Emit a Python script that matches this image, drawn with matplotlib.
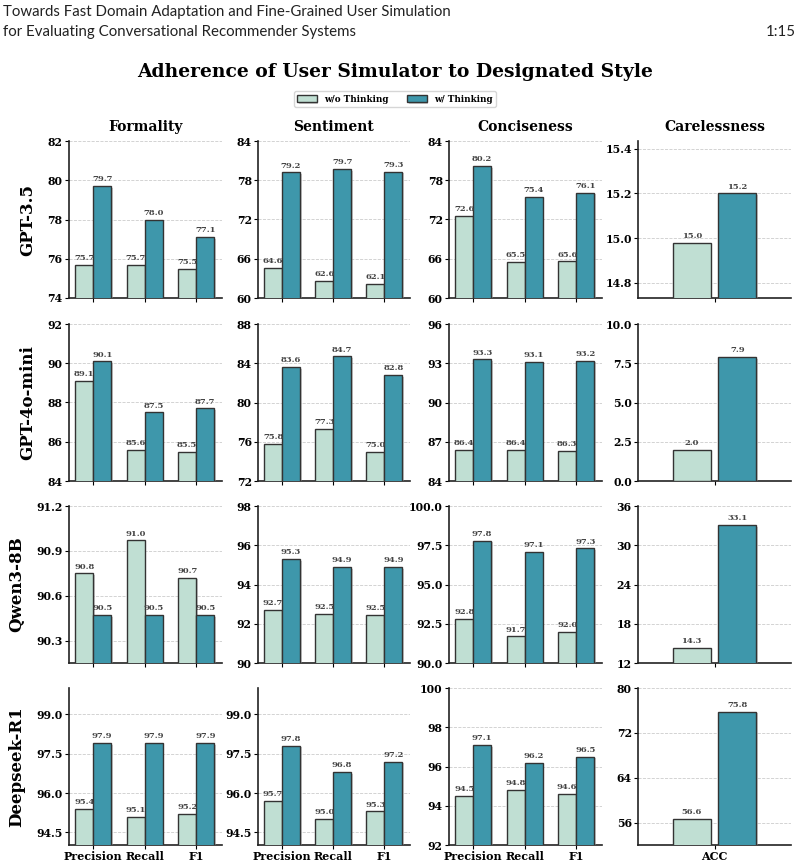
"""Adherence of user simulator to designated style: w/o vs w/ thinking, per model and style."""
import matplotlib

matplotlib.use("Agg")

import matplotlib.patheffects as pe  # noqa: E402
import matplotlib.pyplot as plt  # noqa: E402
import numpy as np  # noqa: E402

W, H = 801, 863

MODELS = ["GPT-3.5", "GPT-4o-mini", "Qwen3-8B", "Deepseek-R1"]
STYLES = ["Formality", "Sentiment", "Conciseness", "Carelessness"]
METRICS = ["Precision", "Recall", "F1"]
ACC = ["ACC"]
LEGEND_LABELS = ["w/o Thinking", "w/ Thinking"]

# rows = models, cols = styles
WO_THINKING = [
    [[75.7, 75.7, 75.5], [64.6, 62.6, 62.1], [72.6, 65.5, 65.6], [14.98]],
    [[89.1, 85.6, 85.5], [75.8, 77.3, 75.0], [86.4, 86.4, 86.3], [2.0]],
    [[90.75, 90.97, 90.72], [92.7, 92.5, 92.46], [92.8, 91.7, 92.0], [14.3]],
    [[95.4, 95.1, 95.2], [95.7, 95.0, 95.3], [94.5, 94.8, 94.6], [56.6]],
]
W_THINKING = [
    [[79.7, 78.0, 77.1], [79.2, 79.7, 79.3], [80.2, 75.4, 76.1], [15.2]],
    [[90.1, 87.5, 87.7], [83.6, 84.7, 82.8], [93.3, 93.1, 93.2], [7.9]],
    [[90.47, 90.47, 90.47], [95.3, 94.9, 94.9], [97.8, 97.1, 97.3], [33.1]],
    [[97.9, 97.9, 97.9], [97.8, 96.8, 97.2], [97.1, 96.2, 96.5], [75.8]],
]

Y_LIMITS = [
    [(74, 82), (60, 84), (60, 84), (14.733, 15.434)],
    [(84, 92), (72, 88), (84, 96), (0, 10)],
    [(90.15, 91.2), (90, 98), (90, 100), (12, 36)],
    [(94.02, 100), (94.02, 100), (92, 100), (52, 80)],
]
Y_TICKS = [
    [[74, 76, 78, 80, 82], [60, 66, 72, 78, 84], [60, 66, 72, 78, 84], [14.8, 15.0, 15.2, 15.4]],
    [[84, 86, 88, 90, 92], [72, 76, 80, 84, 88], [84, 87, 90, 93, 96], [0.0, 2.5, 5.0, 7.5, 10.0]],
    [[90.3, 90.6, 90.9, 91.2], [90, 92, 94, 96, 98], [90.0, 92.5, 95.0, 97.5, 100.0], [12, 18, 24, 30, 36]],
    [[94.5, 96.0, 97.5, 99.0], [94.5, 96.0, 97.5, 99.0], [92, 94, 96, 98, 100], [56, 64, 72, 80]],
]
Y_FMT = [
    ["{:.0f}", "{:.0f}", "{:.0f}", "{:.1f}"],
    ["{:.0f}", "{:.0f}", "{:.0f}", "{:.1f}"],
    ["{:.1f}", "{:.0f}", "{:.1f}", "{:.0f}"],
    ["{:.1f}", "{:.1f}", "{:.0f}", "{:.0f}"],
]

LIGHT = "#c0dfd3"
TEAL = "#3e97ab"
EDGE = "#333333"
SERIF = "DejaVu Serif"

# axes boxes in pixels
COL_LEFT = [69, 258, 449, 638]
COL_WIDTH = [153, 152, 153, 153]
ROW_TOP = [141, 324, 506, 688]
ROW_HEIGHT = 157

fig = plt.figure(figsize=(W / 100, H / 100), dpi=100)

fig.text(3 / W, 1 - 12 / H, "Towards Fast Domain Adaptation and Fine-Grained User Simulation",
         family="Lato", fontsize=10.85, va="center", ha="left", color="#222")
fig.text(3 / W, 1 - 32 / H, "for Evaluating Conversational Recommender Systems",
         family="Lato", fontsize=10.85, va="center", ha="left", color="#222")
fig.text(796 / W, 1 - 32 / H, "1:15", family="Lato", fontsize=10.85, va="center",
         ha="right", color="#222")

fig.text(0.493, 1 - 72 / H, "Adherence of User Simulator to Designated Style",
         family=SERIF, fontsize=13.5, fontweight="bold", ha="center", va="center")

shadow = [pe.SimplePatchShadow(offset=(1.2, -1.2), shadow_rgbFace="#999999", alpha=0.5),
          pe.Normal()]

legend_handles = None
for r, model in enumerate(MODELS):
    for c, style in enumerate(STYLES):
        left = COL_LEFT[c] / W
        bottom = 1 - (ROW_TOP[r] + ROW_HEIGHT) / H
        ax = fig.add_axes([left, bottom, COL_WIDTH[c] / W, ROW_HEIGHT / H])

        wo = WO_THINKING[r][c]
        w = W_THINKING[r][c]
        if c == 3:
            cats = ACC
            width, off = 0.36, 0.215
            ax.set_xlim(-0.72, 0.72)
        else:
            cats = METRICS
            width, off = 0.35, 0.175
            ax.set_xlim(-0.47, 2.5)
        x = np.arange(len(cats))

        b1 = ax.bar(x - off, wo, width, color=LIGHT, edgecolor=EDGE, linewidth=1.0,
                    zorder=3, label=LEGEND_LABELS[0])
        b2 = ax.bar(x + off, w, width, color=TEAL, edgecolor=EDGE, linewidth=1.0,
                    zorder=3, label=LEGEND_LABELS[1])
        for bars in (b1, b2):
            for patch in bars:
                patch.set_path_effects(shadow)
            ax.bar_label(bars, labels=[f"{v:.1f}" for v in bars.datavalues], padding=2,
                         fontsize=6, fontweight="bold", family=SERIF, color="#444444",
                         zorder=4)
        if legend_handles is None:
            legend_handles = [b1, b2]

        ax.set_ylim(*Y_LIMITS[r][c])
        ax.set_yticks(Y_TICKS[r][c])
        ax.set_yticklabels([Y_FMT[r][c].format(t) for t in Y_TICKS[r][c]],
                           family=SERIF, fontsize=7.8, fontweight="bold")
        ax.set_xticks(x)
        if r == len(MODELS) - 1:
            ax.set_xticklabels(cats, family=SERIF, fontsize=8, fontweight="bold")
        else:
            ax.set_xticklabels([])
        ax.tick_params(axis="both", length=3, width=0.8, pad=1.5)
        ax.grid(axis="y", linestyle="--", linewidth=0.6, color="#cccccc", zorder=0)
        ax.set_axisbelow(True)
        for side in ("top", "right"):
            ax.spines[side].set_visible(False)
        for side in ("left", "bottom"):
            ax.spines[side].set_linewidth(1.2)
            ax.spines[side].set_color("#222222")

        if r == 0:
            ax.set_title(style, family=SERIF, fontsize=10, fontweight="bold", pad=7)
        if c == 0:
            ax.set_ylabel(model, family=SERIF, fontsize=12, fontweight="bold", labelpad=8)

fig.legend(legend_handles, LEGEND_LABELS, loc="center", bbox_to_anchor=(0.493, 1 - 99 / H),
           ncol=2, prop={"family": SERIF, "size": 6.3, "weight": "bold"}, frameon=True,
           handlelength=2.2, handleheight=0.9, columnspacing=2.2, borderpad=0.4,
           edgecolor="#cccccc", fancybox=True)

fig.savefig("out.png", dpi=100)
